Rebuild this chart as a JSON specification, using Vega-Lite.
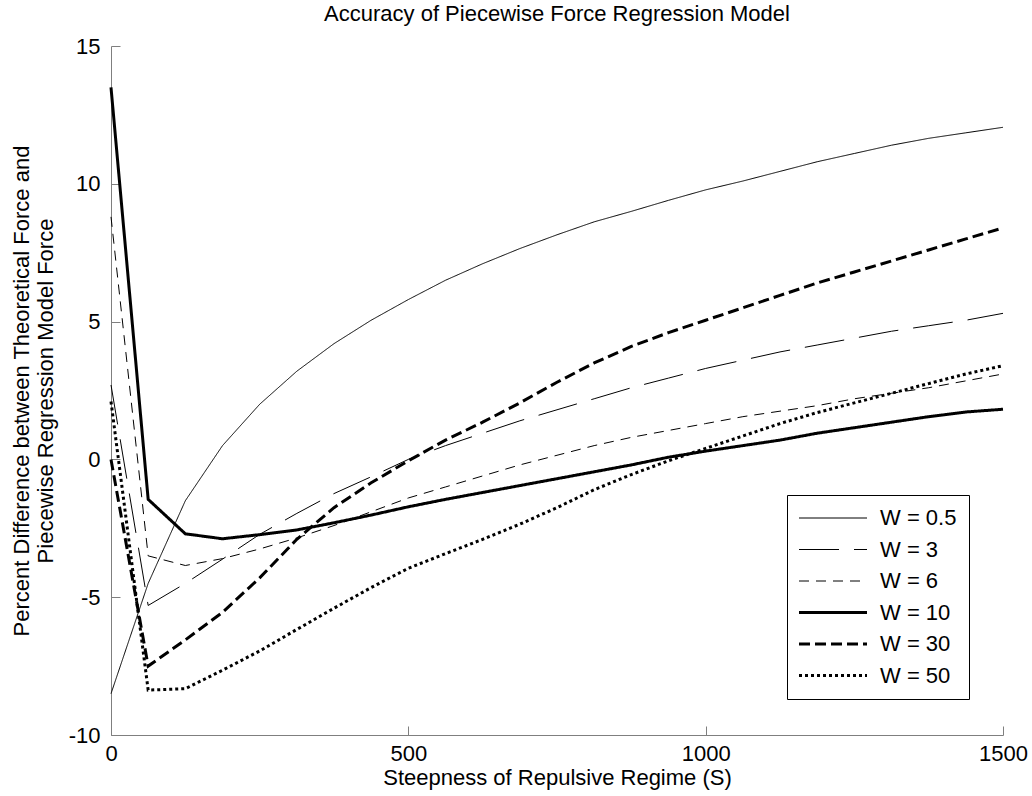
{
  "$schema": "https://vega.github.io/schema/vega-lite/v6.json",
  "width": 892,
  "height": 689,
  "autosize": "none",
  "padding": {"left": 111, "top": 46, "right": 29, "bottom": 61},
  "background": "white",
  "config": {
    "view": {"stroke": null},
    "font": "Liberation Sans",
    "axis": {"grid": false, "domainColor": "#7f7f7f", "tickColor": "#7f7f7f", "labelColor": "black", "titleColor": "black", "labelFontSize": 22, "titleFontSize": 22, "titleFontWeight": "normal", "labelFont": "Liberation Sans", "titleFont": "Liberation Sans"}
  },
  "title": {"text": "Accuracy of Piecewise Force Regression Model", "fontSize": 22, "fontWeight": "normal", "font": "Liberation Sans", "color": "black", "anchor": "middle", "offset": 9},
  "data": {"values": [
    {"series": "W = 0.5", "s": 0, "diff": -8.5}, {"series": "W = 0.5", "s": 62.5, "diff": -4.5}, {"series": "W = 0.5", "s": 125, "diff": -1.5}, {"series": "W = 0.5", "s": 187.5, "diff": 0.5}, {"series": "W = 0.5", "s": 250, "diff": 2.0}, {"series": "W = 0.5", "s": 312.5, "diff": 3.2}, {"series": "W = 0.5", "s": 375, "diff": 4.2}, {"series": "W = 0.5", "s": 437.5, "diff": 5.05}, {"series": "W = 0.5", "s": 500, "diff": 5.8}, {"series": "W = 0.5", "s": 562.5, "diff": 6.5}, {"series": "W = 0.5", "s": 625, "diff": 7.1}, {"series": "W = 0.5", "s": 687.5, "diff": 7.65}, {"series": "W = 0.5", "s": 750, "diff": 8.15}, {"series": "W = 0.5", "s": 812.5, "diff": 8.62}, {"series": "W = 0.5", "s": 875, "diff": 9.0}, {"series": "W = 0.5", "s": 937.5, "diff": 9.4}, {"series": "W = 0.5", "s": 1000, "diff": 9.78}, {"series": "W = 0.5", "s": 1062.5, "diff": 10.1}, {"series": "W = 0.5", "s": 1125, "diff": 10.45}, {"series": "W = 0.5", "s": 1187.5, "diff": 10.8}, {"series": "W = 0.5", "s": 1250, "diff": 11.1}, {"series": "W = 0.5", "s": 1312.5, "diff": 11.4}, {"series": "W = 0.5", "s": 1375, "diff": 11.65}, {"series": "W = 0.5", "s": 1437.5, "diff": 11.85}, {"series": "W = 0.5", "s": 1500, "diff": 12.05},
    {"series": "W = 3", "s": 0, "diff": 2.7}, {"series": "W = 3", "s": 62.5, "diff": -5.3}, {"series": "W = 3", "s": 125, "diff": -4.5}, {"series": "W = 3", "s": 187.5, "diff": -3.62}, {"series": "W = 3", "s": 250, "diff": -2.72}, {"series": "W = 3", "s": 312.5, "diff": -1.96}, {"series": "W = 3", "s": 375, "diff": -1.24}, {"series": "W = 3", "s": 437.5, "diff": -0.63}, {"series": "W = 3", "s": 500, "diff": 0.0}, {"series": "W = 3", "s": 562.5, "diff": 0.5}, {"series": "W = 3", "s": 625, "diff": 0.95}, {"series": "W = 3", "s": 687.5, "diff": 1.4}, {"series": "W = 3", "s": 750, "diff": 1.8}, {"series": "W = 3", "s": 812.5, "diff": 2.2}, {"series": "W = 3", "s": 875, "diff": 2.6}, {"series": "W = 3", "s": 937.5, "diff": 2.95}, {"series": "W = 3", "s": 1000, "diff": 3.3}, {"series": "W = 3", "s": 1062.5, "diff": 3.6}, {"series": "W = 3", "s": 1125, "diff": 3.9}, {"series": "W = 3", "s": 1187.5, "diff": 4.15}, {"series": "W = 3", "s": 1250, "diff": 4.4}, {"series": "W = 3", "s": 1312.5, "diff": 4.65}, {"series": "W = 3", "s": 1375, "diff": 4.85}, {"series": "W = 3", "s": 1437.5, "diff": 5.05}, {"series": "W = 3", "s": 1500, "diff": 5.3},
    {"series": "W = 6", "s": 0, "diff": 8.8}, {"series": "W = 6", "s": 62.5, "diff": -3.5}, {"series": "W = 6", "s": 125, "diff": -3.85}, {"series": "W = 6", "s": 187.5, "diff": -3.6}, {"series": "W = 6", "s": 250, "diff": -3.25}, {"series": "W = 6", "s": 312.5, "diff": -2.85}, {"series": "W = 6", "s": 375, "diff": -2.4}, {"series": "W = 6", "s": 437.5, "diff": -1.9}, {"series": "W = 6", "s": 500, "diff": -1.4}, {"series": "W = 6", "s": 562.5, "diff": -1.0}, {"series": "W = 6", "s": 625, "diff": -0.6}, {"series": "W = 6", "s": 687.5, "diff": -0.2}, {"series": "W = 6", "s": 750, "diff": 0.15}, {"series": "W = 6", "s": 812.5, "diff": 0.5}, {"series": "W = 6", "s": 875, "diff": 0.8}, {"series": "W = 6", "s": 937.5, "diff": 1.05}, {"series": "W = 6", "s": 1000, "diff": 1.3}, {"series": "W = 6", "s": 1062.5, "diff": 1.55}, {"series": "W = 6", "s": 1125, "diff": 1.75}, {"series": "W = 6", "s": 1187.5, "diff": 1.95}, {"series": "W = 6", "s": 1250, "diff": 2.2}, {"series": "W = 6", "s": 1312.5, "diff": 2.4}, {"series": "W = 6", "s": 1375, "diff": 2.6}, {"series": "W = 6", "s": 1437.5, "diff": 2.85}, {"series": "W = 6", "s": 1500, "diff": 3.1},
    {"series": "W = 10", "s": 0, "diff": 13.5}, {"series": "W = 10", "s": 62.5, "diff": -1.45}, {"series": "W = 10", "s": 125, "diff": -2.7}, {"series": "W = 10", "s": 187.5, "diff": -2.88}, {"series": "W = 10", "s": 250, "diff": -2.73}, {"series": "W = 10", "s": 312.5, "diff": -2.56}, {"series": "W = 10", "s": 375, "diff": -2.3}, {"series": "W = 10", "s": 437.5, "diff": -2.02}, {"series": "W = 10", "s": 500, "diff": -1.72}, {"series": "W = 10", "s": 562.5, "diff": -1.45}, {"series": "W = 10", "s": 625, "diff": -1.2}, {"series": "W = 10", "s": 687.5, "diff": -0.95}, {"series": "W = 10", "s": 750, "diff": -0.7}, {"series": "W = 10", "s": 812.5, "diff": -0.45}, {"series": "W = 10", "s": 875, "diff": -0.2}, {"series": "W = 10", "s": 937.5, "diff": 0.08}, {"series": "W = 10", "s": 1000, "diff": 0.3}, {"series": "W = 10", "s": 1062.5, "diff": 0.5}, {"series": "W = 10", "s": 1125, "diff": 0.7}, {"series": "W = 10", "s": 1187.5, "diff": 0.95}, {"series": "W = 10", "s": 1250, "diff": 1.15}, {"series": "W = 10", "s": 1312.5, "diff": 1.35}, {"series": "W = 10", "s": 1375, "diff": 1.55}, {"series": "W = 10", "s": 1437.5, "diff": 1.72}, {"series": "W = 10", "s": 1500, "diff": 1.82},
    {"series": "W = 30", "s": 0, "diff": 0.0}, {"series": "W = 30", "s": 62.5, "diff": -7.5}, {"series": "W = 30", "s": 125, "diff": -6.55}, {"series": "W = 30", "s": 187.5, "diff": -5.55}, {"series": "W = 30", "s": 250, "diff": -4.3}, {"series": "W = 30", "s": 312.5, "diff": -2.9}, {"series": "W = 30", "s": 375, "diff": -1.75}, {"series": "W = 30", "s": 437.5, "diff": -0.85}, {"series": "W = 30", "s": 500, "diff": -0.05}, {"series": "W = 30", "s": 562.5, "diff": 0.7}, {"series": "W = 30", "s": 625, "diff": 1.35}, {"series": "W = 30", "s": 687.5, "diff": 2.05}, {"series": "W = 30", "s": 750, "diff": 2.8}, {"series": "W = 30", "s": 812.5, "diff": 3.5}, {"series": "W = 30", "s": 875, "diff": 4.1}, {"series": "W = 30", "s": 937.5, "diff": 4.6}, {"series": "W = 30", "s": 1000, "diff": 5.05}, {"series": "W = 30", "s": 1062.5, "diff": 5.5}, {"series": "W = 30", "s": 1125, "diff": 5.95}, {"series": "W = 30", "s": 1187.5, "diff": 6.4}, {"series": "W = 30", "s": 1250, "diff": 6.8}, {"series": "W = 30", "s": 1312.5, "diff": 7.2}, {"series": "W = 30", "s": 1375, "diff": 7.6}, {"series": "W = 30", "s": 1437.5, "diff": 8.0}, {"series": "W = 30", "s": 1500, "diff": 8.4},
    {"series": "W = 50", "s": 0, "diff": 2.1}, {"series": "W = 50", "s": 62.5, "diff": -8.37}, {"series": "W = 50", "s": 125, "diff": -8.32}, {"series": "W = 50", "s": 187.5, "diff": -7.65}, {"series": "W = 50", "s": 250, "diff": -6.95}, {"series": "W = 50", "s": 312.5, "diff": -6.17}, {"series": "W = 50", "s": 375, "diff": -5.4}, {"series": "W = 50", "s": 437.5, "diff": -4.65}, {"series": "W = 50", "s": 500, "diff": -3.95}, {"series": "W = 50", "s": 562.5, "diff": -3.42}, {"series": "W = 50", "s": 625, "diff": -2.9}, {"series": "W = 50", "s": 687.5, "diff": -2.35}, {"series": "W = 50", "s": 750, "diff": -1.75}, {"series": "W = 50", "s": 812.5, "diff": -1.1}, {"series": "W = 50", "s": 875, "diff": -0.55}, {"series": "W = 50", "s": 937.5, "diff": -0.05}, {"series": "W = 50", "s": 1000, "diff": 0.4}, {"series": "W = 50", "s": 1062.5, "diff": 0.85}, {"series": "W = 50", "s": 1125, "diff": 1.3}, {"series": "W = 50", "s": 1187.5, "diff": 1.7}, {"series": "W = 50", "s": 1250, "diff": 2.05}, {"series": "W = 50", "s": 1312.5, "diff": 2.4}, {"series": "W = 50", "s": 1375, "diff": 2.75}, {"series": "W = 50", "s": 1437.5, "diff": 3.1}, {"series": "W = 50", "s": 1500, "diff": 3.4}
  ]},
  "mark": {"type": "line", "color": "black", "strokeCap": "butt", "strokeJoin": "miter"},
  "encoding": {
    "x": {
      "field": "s", "type": "quantitative",
      "scale": {"domain": [0, 1500], "nice": false, "zero": false},
      "axis": {"values": [0, 500, 1000, 1500], "labelExpr": "toString(datum.value)", "tickSize": -9, "labelPadding": 17, "labelFlush": false, "labelOverlap": false, "title": "Steepness of Repulsive Regime (S)", "titlePadding": 3}
    },
    "y": {
      "field": "diff", "type": "quantitative",
      "scale": {"domain": [-10, 15], "nice": false, "zero": false},
      "axis": {"values": [-10, -5, 0, 5, 10, 15], "labelExpr": "toString(datum.value)", "tickSize": -9, "labelPadding": 20, "labelFlush": false, "labelOverlap": false, "title": ["Percent Difference between Theoretical Force and", "Piecewise Regression Model Force"], "titlePadding": 11, "titleLineHeight": 24}
    },
    "strokeDash": {
      "field": "series", "type": "nominal",
      "scale": {"domain": ["W = 0.5", "W = 3", "W = 6", "W = 10", "W = 30", "W = 50"], "range": [[1, 0], [40, 15], [10, 7], [1, 0], [11, 5], [3, 3]]},
      "legend": {
        "title": null, "orient": "none", "legendX": 676, "legendY": 449,
        "padding": 12, "strokeColor": "black", "fillColor": "white", "cornerRadius": 0,
        "symbolType": "M-4,0H4", "symbolSize": 289, "symbolOffset": 23, "symbolStrokeColor": "black", "symbolStrokeWidth": 1,
        "labelOffset": 36, "labelFontSize": 22, "labelColor": "black", "labelFont": "Liberation Sans", "rowPadding": 9.5,
        "encode": {"symbols": {"update": {"strokeWidth": {"signal": "indexof(['W = 10', 'W = 30', 'W = 50'], datum.value) >= 0 ? 3 : 1"}}}}
      }
    },
    "strokeWidth": {"condition": {"test": "indexof(['W = 10', 'W = 30', 'W = 50'], datum.series) >= 0", "value": 3}, "value": 1}
  }
}
